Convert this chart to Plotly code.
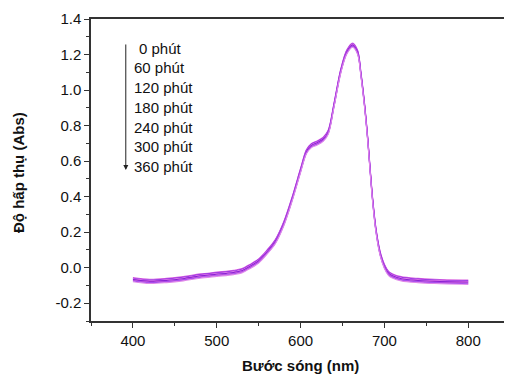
import plotly.graph_objects as go

wavelength = [400, 420, 440, 460, 480, 500, 520, 530, 540, 550, 560, 570, 580, 590, 600, 607, 613, 620, 627, 633,
              640, 648, 655, 662, 668, 672, 676, 680, 683, 686, 690, 695, 700, 705, 710, 720, 740, 760, 800]

abs_0 = [-0.055, -0.065, -0.06, -0.05, -0.035, -0.025, -0.015, -0.005, 0.02, 0.05, 0.10, 0.16, 0.26, 0.40, 0.56, 0.665, 0.70, 0.715, 0.735, 0.775,
         0.93, 1.12, 1.225, 1.265, 1.225, 1.10, 0.94, 0.74, 0.56, 0.39, 0.22, 0.09, 0.02, -0.02, -0.035, -0.05, -0.06, -0.065, -0.07]
abs_60 = [-0.059, -0.069, -0.064, -0.054, -0.039, -0.029, -0.019, -0.009, 0.016, 0.046, 0.096, 0.156, 0.256, 0.396, 0.556, 0.661, 0.696, 0.711, 0.731, 0.771,
          0.926, 1.116, 1.221, 1.261, 1.221, 1.096, 0.936, 0.736, 0.556, 0.386, 0.216, 0.086, 0.016, -0.024, -0.039, -0.054, -0.064, -0.069, -0.074]
abs_120 = [-0.063, -0.073, -0.068, -0.058, -0.043, -0.033, -0.023, -0.013, 0.012, 0.042, 0.092, 0.152, 0.252, 0.392, 0.552, 0.657, 0.692, 0.707, 0.727, 0.767,
           0.922, 1.112, 1.217, 1.257, 1.217, 1.092, 0.932, 0.732, 0.552, 0.382, 0.212, 0.082, 0.012, -0.028, -0.043, -0.058, -0.068, -0.073, -0.078]
abs_180 = [-0.067, -0.077, -0.072, -0.062, -0.047, -0.037, -0.027, -0.017, 0.008, 0.038, 0.088, 0.148, 0.248, 0.388, 0.548, 0.653, 0.688, 0.703, 0.723, 0.763,
           0.918, 1.108, 1.213, 1.253, 1.213, 1.088, 0.928, 0.728, 0.548, 0.378, 0.208, 0.078, 0.008, -0.032, -0.047, -0.062, -0.072, -0.077, -0.082]
abs_240 = [-0.071, -0.081, -0.076, -0.066, -0.051, -0.041, -0.031, -0.021, 0.004, 0.034, 0.084, 0.144, 0.244, 0.384, 0.544, 0.649, 0.684, 0.699, 0.719, 0.759,
           0.914, 1.104, 1.209, 1.249, 1.209, 1.084, 0.924, 0.724, 0.544, 0.374, 0.204, 0.074, 0.004, -0.036, -0.051, -0.066, -0.076, -0.081, -0.086]
abs_300 = [-0.075, -0.085, -0.080, -0.070, -0.055, -0.045, -0.035, -0.025, 0.000, 0.030, 0.080, 0.140, 0.240, 0.380, 0.540, 0.645, 0.680, 0.695, 0.715, 0.755,
           0.910, 1.100, 1.205, 1.245, 1.205, 1.080, 0.920, 0.720, 0.540, 0.370, 0.200, 0.070, 0.000, -0.040, -0.055, -0.070, -0.080, -0.085, -0.090]
abs_360 = [-0.079, -0.089, -0.084, -0.074, -0.059, -0.049, -0.039, -0.029, -0.004, 0.026, 0.076, 0.136, 0.236, 0.376, 0.536, 0.641, 0.676, 0.691, 0.711, 0.751,
           0.906, 1.096, 1.201, 1.241, 1.201, 1.076, 0.916, 0.716, 0.536, 0.366, 0.196, 0.066, -0.004, -0.044, -0.059, -0.074, -0.084, -0.089, -0.094]

series = [abs_0, abs_60, abs_120, abs_180, abs_240, abs_300, abs_360]
labels = ["0 phút", "60 phút", "120 phút", "180 phút", "240 phút", "300 phút", "360 phút"]
colors = ["#d860e0", "#8a2be2", "#e070e8", "#7a10d0", "#c050d8", "#9a40f0", "#e088e8"]

y_ticks = [-0.2, 0.0, 0.2, 0.4, 0.6, 0.8, 1.0, 1.2, 1.4]
y_ticktext = ["-0.2", "0.0", "0.2", "0.4", "0.6", "0.8", "1.0", "1.2", "1.4"]
x_ticks = [400, 500, 600, 700, 800]

FONT = "Liberation Sans, Arial"

fig = go.Figure()
for s, lab, c in zip(series, labels, colors):
    fig.add_trace(go.Scatter(x=wavelength, y=s, mode="lines", name=lab,
                             line=dict(color=c, width=1.1, shape="spline", smoothing=0.9)))

# labels list
y0 = 1.236
dy = 0.111
for i, lab in enumerate(labels):
    fig.add_annotation(x=399 if i > 0 else 405, y=y0 - i * dy, xref="x", yref="y", text=lab,
                       showarrow=False, xanchor="left", yanchor="middle",
                       font=dict(family=FONT, size=15, color="#111"))

# downward arrow
fig.add_annotation(x=391.5, y=0.55, ax=391.5, ay=1.265, xref="x", yref="y", axref="x", ayref="y",
                   text="", showarrow=True, arrowhead=2, arrowsize=1, arrowwidth=1, arrowcolor="#222")

# axis titles
fig.add_annotation(x=0.498, y=-0.146, xref="paper", yref="paper", text="<b>Bước sóng (nm)</b>",
                   showarrow=False, xanchor="center", yanchor="middle",
                   font=dict(family=FONT, size=15, color="#111"))
fig.add_annotation(x=-0.174, y=0.493, xref="paper", yref="paper", text="<b>Độ hấp thụ (Abs)</b>",
                   showarrow=False, xanchor="center", yanchor="middle", textangle=-90,
                   font=dict(family=FONT, size=15, color="#111"))

fig.update_layout(
    width=504, height=366,
    margin=dict(l=83, r=1, t=11, b=53, autoexpand=False),
    paper_bgcolor="white", plot_bgcolor="white",
    showlegend=False,
    font=dict(family=FONT, size=15, color="#111"),
    xaxis=dict(range=[350, 851], tickvals=x_ticks, ticks="outside", ticklen=5, tickwidth=1.2,
               tickcolor="#333", showline=True, linecolor="#333", linewidth=1.5, mirror=True,
               showgrid=False, zeroline=False, automargin=False,
               tickfont=dict(family=FONT, size=15, color="#111"),
               minor=dict(tickvals=[350, 450, 550, 650, 750, 850], ticks="outside", ticklen=3, tickcolor="#333")),
    yaxis=dict(range=[-0.3, 1.4], tickvals=y_ticks, ticktext=y_ticktext, ticks="outside", ticklen=5,
               tickwidth=1.2, tickcolor="#333", showline=True, linecolor="#333", linewidth=1.5,
               showgrid=False, zeroline=False, automargin=False,
               tickfont=dict(family=FONT, size=15, color="#111"),
               minor=dict(tickvals=[-0.3, -0.1, 0.1, 0.3, 0.5, 0.7, 0.9, 1.1, 1.3], ticks="outside", ticklen=3, tickcolor="#333")),
)

fig.write_html("out.html")
